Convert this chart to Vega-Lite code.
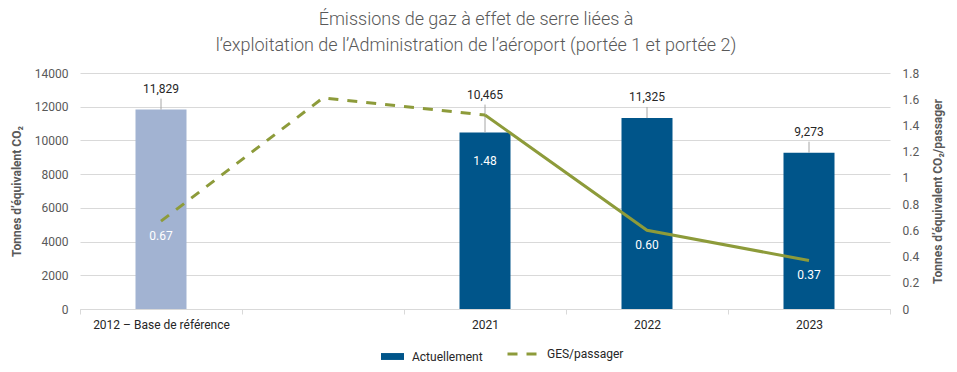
{
  "$schema": "https://vega.github.io/schema/vega-lite/v6.json",
  "autosize": "none",
  "width": 810,
  "height": 236,
  "padding": {"left": 80, "top": 73, "right": 67, "bottom": 63},
  "background": "white",
  "config": {
    "font": "Roboto",
    "view": {"stroke": null},
    "axis": {"labelFont": "Roboto", "labelFontSize": 12, "labelColor": "#595959", "titleFont": "Roboto", "titleFontSize": 12, "titleColor": "#595959", "titleFontWeight": "bold"},
    "legend": {"labelFont": "Roboto", "labelFontSize": 12, "labelColor": "#262626"}
  },
  "title": {
    "text": ["Émissions de gaz à effet de serre liées à", "l’exploitation de l’Administration de l’aéroport (portée 1 et portée 2)"],
    "fontSize": 18,
    "fontWeight": 300,
    "color": "#595959",
    "font": "Roboto",
    "lineHeight": 26,
    "anchor": "middle",
    "dx": -9,
    "offset": 12
  },
  "data": {
    "values": [
      {"cat": "2012 – Base de référence", "co2": 11829, "ges": 0.67, "type": "Référence", "seg": "a"},
      {"cat": "2019", "co2": null, "ges": 1.61, "type": "Actuellement", "seg": "a"},
      {"cat": "2021", "co2": 10465, "ges": 1.48, "type": "Actuellement", "seg": "ab"},
      {"cat": "2022", "co2": 11325, "ges": 0.60, "type": "Actuellement", "seg": "b"},
      {"cat": "2023", "co2": 9273, "ges": 0.37, "type": "Actuellement", "seg": "b"}
    ]
  },
  "encoding": {
    "x": {
      "field": "cat",
      "type": "nominal",
      "sort": ["2012 – Base de référence", "2019", "2021", "2022", "2023"],
      "scale": {"domain": ["2012 – Base de référence", "2019", "2021", "2022", "2023"], "paddingInner": 0, "paddingOuter": 0},
      "axis": {
        "title": null,
        "labelAngle": 0,
        "labelExpr": "datum.value == '2019' ? '' : datum.value",
        "tickBand": "extent",
        "domainColor": "#d9d9d9",
        "tickColor": "#d9d9d9",
        "tickSize": 5,
        "labelPadding": 5,
        "labelColor": "#262626",
        "grid": false
      }
    }
  },
  "layer": [
    {
      "layer": [
        {
          "mark": {"type": "bar", "width": 51},
          "transform": [{"filter": "isValid(datum.co2)"}],
          "encoding": {
            "y": {
              "field": "co2",
              "type": "quantitative",
              "scale": {"domain": [0, 14000]},
              "axis": {
                "orient": "left",
                "title": "Tonnes d’équivalent CO₂",
                "values": [0, 2000, 4000, 6000, 8000, 10000, 12000, 14000],
                "tickCount": 20,
                "format": "d",
                "labelOverlap": false,
                "domain": false,
                "ticks": false,
                "labelPadding": 12,
                "titlePadding": 11,
                "gridColor": "#d9d9d9"
              }
            },
            "fill": {
              "field": "type",
              "type": "nominal",
              "scale": {"domain": ["Actuellement", "Référence"], "range": ["#00558a", "#a2b3d2"]},
              "legend": {
                "values": ["Actuellement"],
                "title": null,
                "orient": "none",
                "legendX": 301,
                "legendY": 272,
                "symbolType": "M-1,-0.3H1V0.3H-1Z",
                "symbolSize": 529,
                "symbolStrokeWidth": 0,
                "labelOffset": 8
              }
            }
          }
        },
        {
          "mark": {"type": "rule", "color": "#a6a6a6", "strokeWidth": 1, "y2Offset": -11},
          "transform": [{"filter": "isValid(datum.co2) && datum.cat != '2021'"}],
          "encoding": {
            "y": {"field": "co2", "type": "quantitative"},
            "y2": {"field": "co2"}
          }
        },
        {
          "mark": {"type": "rule", "color": "#a6a6a6", "strokeWidth": 1, "y2Offset": -28},
          "transform": [{"filter": "datum.cat == '2021'"}],
          "encoding": {
            "y": {"field": "co2", "type": "quantitative"},
            "y2": {"field": "co2"}
          }
        },
        {
          "mark": {"type": "text", "dy": -21, "fontSize": 12, "color": "#262626", "baseline": "middle"},
          "transform": [{"filter": "isValid(datum.co2) && datum.cat != '2021'"}],
          "encoding": {
            "y": {"field": "co2", "type": "quantitative"},
            "text": {"field": "co2", "type": "quantitative", "format": ","}
          }
        },
        {
          "mark": {"type": "text", "dy": -38, "fontSize": 12, "color": "#262626", "baseline": "middle"},
          "transform": [{"filter": "datum.cat == '2021'"}],
          "encoding": {
            "y": {"field": "co2", "type": "quantitative"},
            "text": {"field": "co2", "type": "quantitative", "format": ","}
          }
        }
      ]
    },
    {
      "layer": [
        {
          "mark": {"type": "line", "strokeWidth": 3, "strokeDash": [10, 9]},
          "transform": [{"filter": "indexof(datum.seg, 'a') >= 0"}],
          "encoding": {
            "y": {
              "field": "ges",
              "type": "quantitative",
              "scale": {"domain": [0, 1.8]},
              "axis": {
                "orient": "right",
                "title": "Tonnes d’équivalent CO₂/passager",
                "titleAngle": 270,
                "values": [0, 0.2, 0.4, 0.6, 0.8, 1, 1.2, 1.4, 1.6, 1.8],
                "tickCount": 20,
                "format": "~g",
                "labelOverlap": false,
                "grid": false,
                "domain": false,
                "ticks": false,
                "labelPadding": 12,
                "titlePadding": 26
              }
            },
            "stroke": {
              "datum": "GES/passager",
              "scale": {"domain": ["GES/passager"], "range": ["#8d9b3a"]},
              "legend": {
                "title": null,
                "orient": "none",
                "legendX": 426,
                "legendY": 265,
                "symbolType": "stroke",
                "symbolSize": 841,
                "symbolStrokeWidth": 3,
                "symbolDash": [10, 9],
                "labelOffset": 9
              }
            }
          }
        },
        {
          "mark": {"type": "line", "strokeWidth": 3},
          "transform": [{"filter": "indexof(datum.seg, 'b') >= 0"}],
          "encoding": {
            "y": {"field": "ges", "type": "quantitative"},
            "stroke": {"datum": "GES/passager"}
          }
        },
        {
          "mark": {"type": "text", "dy": 15, "fontSize": 12, "color": "white", "baseline": "middle"},
          "transform": [{"filter": "datum.cat != '2019' && datum.cat != '2021'"}],
          "encoding": {
            "y": {"field": "ges", "type": "quantitative"},
            "text": {"field": "ges", "type": "quantitative", "format": ".2f"}
          }
        },
        {
          "mark": {"type": "text", "dy": 46, "fontSize": 12, "color": "white", "baseline": "middle"},
          "transform": [{"filter": "datum.cat == '2021'"}],
          "encoding": {
            "y": {"field": "ges", "type": "quantitative"},
            "text": {"field": "ges", "type": "quantitative", "format": ".2f"}
          }
        }
      ]
    }
  ],
  "resolve": {"scale": {"y": "independent"}}
}
